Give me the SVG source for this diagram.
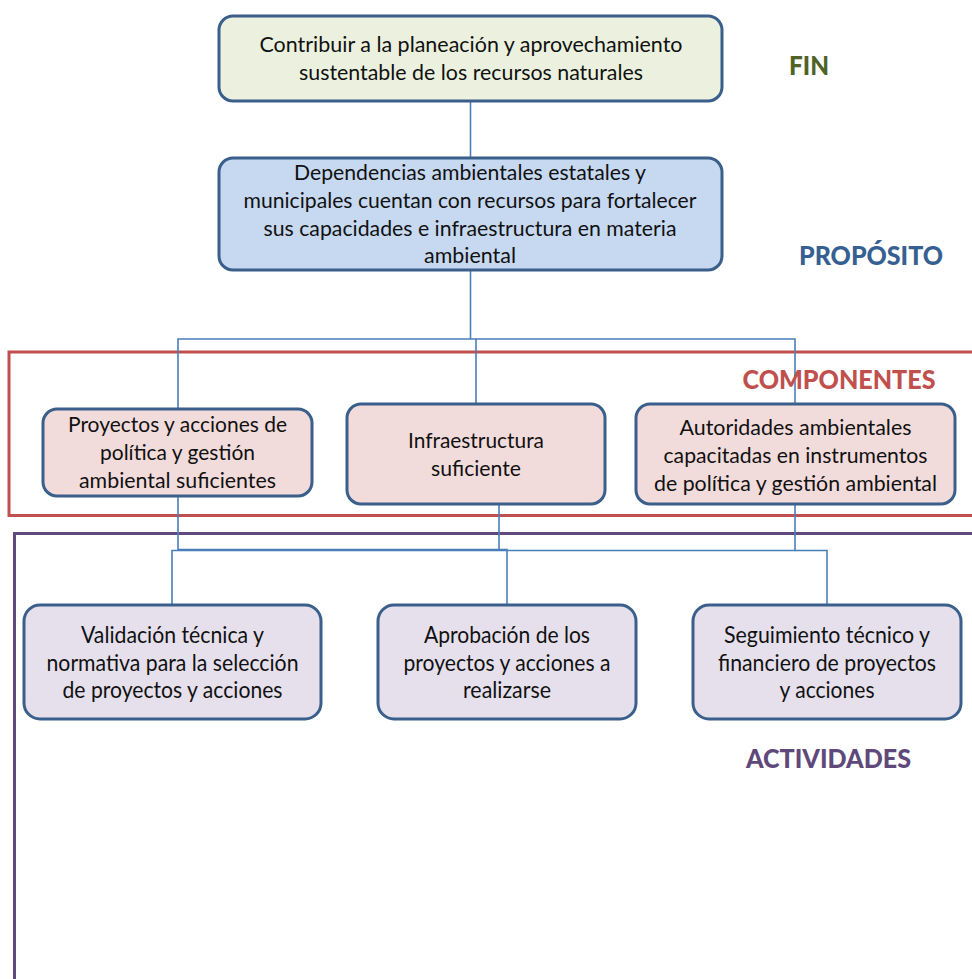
<svg xmlns="http://www.w3.org/2000/svg" width="972" height="979" viewBox="0 0 972 979">
<style>
.box{stroke:#3a5f8b;stroke-width:3}
.fin{fill:#ebf1de}
.pro{fill:#c6d9f1}
.comp{fill:#f2dcdb}
.act{fill:#e5e0ec}
.t{font-family:Lato,"Liberation Sans",sans-serif;font-size:21.5px;fill:#111;text-anchor:middle}
.ta{font-family:Lato,"Liberation Sans",sans-serif;font-size:22.5px;fill:#111;text-anchor:middle}
.lbl{font-family:Lato,"Liberation Sans",sans-serif;font-weight:900;font-size:26.5px}
.conn{fill:none;stroke:#4a7ebb;stroke-width:1.6}
</style>
<rect width="972" height="979" fill="#ffffff"/>

<!-- section frames -->
<g id="frame-componentes">
<rect x="9" y="352" width="990" height="163.5" fill="none" stroke="#c0504d" stroke-width="3"/>
</g>
<g id="frame-actividades">
<rect x="14.5" y="533.5" width="990" height="480" fill="none" stroke="#5f4a7b" stroke-width="3"/>
</g>

<!-- connectors -->
<g id="connectors" class="conn">
<path d="M470.5,101 V158"/>
<path d="M470.5,270 V339"/>
<path d="M178,409 V339 H795 V404"/>
<path d="M476,339 V404"/>
<path d="M178,496 V549.5 H499"/>
<path d="M499,504 V549.5 H507 V605"/>
<path d="M795,504 V550.5 H827 V605"/>
<path d="M172,605 V550.5 H795"/>
</g>

<!-- FIN -->
<g id="fin">
<rect class="box fin" x="219" y="16" width="503" height="85" rx="14"/>
<text class="t" x="471" y="52" textLength="423" lengthAdjust="spacingAndGlyphs">Contribuir a la planeación y aprovechamiento</text>
<text class="t" x="471" y="80" textLength="344" lengthAdjust="spacingAndGlyphs">sustentable de los recursos naturales</text>
</g>

<!-- PROPOSITO -->
<g id="proposito">
<rect class="box pro" x="219" y="158" width="503" height="112" rx="14"/>
<text class="t" x="470" y="180" textLength="352" lengthAdjust="spacingAndGlyphs">Dependencias ambientales estatales y</text>
<text class="t" x="470" y="208" textLength="453" lengthAdjust="spacingAndGlyphs">municipales cuentan con recursos para fortalecer</text>
<text class="t" x="470" y="236" textLength="413" lengthAdjust="spacingAndGlyphs">sus capacidades e infraestructura en materia</text>
<text class="t" x="470" y="263" textLength="92" lengthAdjust="spacingAndGlyphs">ambiental</text>
</g>

<!-- COMPONENTES -->
<g id="comp1">
<rect class="box comp" x="43" y="409" width="269" height="87" rx="14"/>
<text class="t" x="177.5" y="432" textLength="219" lengthAdjust="spacingAndGlyphs">Proyectos y acciones de</text>
<text class="t" x="177.5" y="460" textLength="155" lengthAdjust="spacingAndGlyphs">política y gestión</text>
<text class="t" x="177.5" y="487.5" textLength="197" lengthAdjust="spacingAndGlyphs">ambiental suficientes</text>
</g>
<g id="comp2">
<rect class="box comp" x="347" y="404" width="258" height="100" rx="14"/>
<text class="t" x="476" y="448" textLength="136" lengthAdjust="spacingAndGlyphs">Infraestructura</text>
<text class="t" x="476" y="476" textLength="90" lengthAdjust="spacingAndGlyphs">suficiente</text>
</g>
<g id="comp3">
<rect class="box comp" x="636" y="404" width="319" height="100" rx="14"/>
<text class="t" x="795.5" y="434.5" textLength="232" lengthAdjust="spacingAndGlyphs">Autoridades ambientales</text>
<text class="t" x="795.5" y="462.5" textLength="264" lengthAdjust="spacingAndGlyphs">capacitadas en instrumentos</text>
<text class="t" x="795.5" y="490.5" textLength="283" lengthAdjust="spacingAndGlyphs">de política y gestión ambiental</text>
</g>

<!-- ACTIVIDADES -->
<g id="act1">
<rect class="box act" x="24" y="605" width="297" height="114" rx="16"/>
<text class="ta" x="172.5" y="643" textLength="183" lengthAdjust="spacingAndGlyphs">Validación técnica y</text>
<text class="ta" x="172.5" y="670.5" textLength="252" lengthAdjust="spacingAndGlyphs">normativa para la selección</text>
<text class="ta" x="172.5" y="698" textLength="220" lengthAdjust="spacingAndGlyphs">de proyectos y acciones</text>
</g>
<g id="act2">
<rect class="box act" x="378" y="605" width="258" height="114" rx="16"/>
<text class="ta" x="507" y="643" textLength="166" lengthAdjust="spacingAndGlyphs">Aprobación de los</text>
<text class="ta" x="507" y="670.5" textLength="207" lengthAdjust="spacingAndGlyphs">proyectos y acciones a</text>
<text class="ta" x="507" y="698" textLength="88" lengthAdjust="spacingAndGlyphs">realizarse</text>
</g>
<g id="act3">
<rect class="box act" x="693" y="605" width="268" height="114" rx="16"/>
<text class="ta" x="827" y="643" textLength="206" lengthAdjust="spacingAndGlyphs">Seguimiento técnico y</text>
<text class="ta" x="827" y="670.5" textLength="218" lengthAdjust="spacingAndGlyphs">financiero de proyectos</text>
<text class="ta" x="827" y="698" textLength="95" lengthAdjust="spacingAndGlyphs">y acciones</text>
</g>

<!-- level labels -->
<g id="labels">
<text class="lbl" x="789" y="75" fill="#4f6228" textLength="40" lengthAdjust="spacingAndGlyphs">FIN</text>
<text class="lbl" x="799" y="264.5" fill="#376092" textLength="144" lengthAdjust="spacingAndGlyphs">PROPÓSITO</text>
<text class="lbl" x="742.5" y="389" fill="#c0504d" textLength="193" lengthAdjust="spacingAndGlyphs">COMPONENTES</text>
<text class="lbl" x="746" y="768" fill="#5f497a" font-size="30" textLength="165" lengthAdjust="spacingAndGlyphs">ACTIVIDADES</text>
</g>
</svg>
